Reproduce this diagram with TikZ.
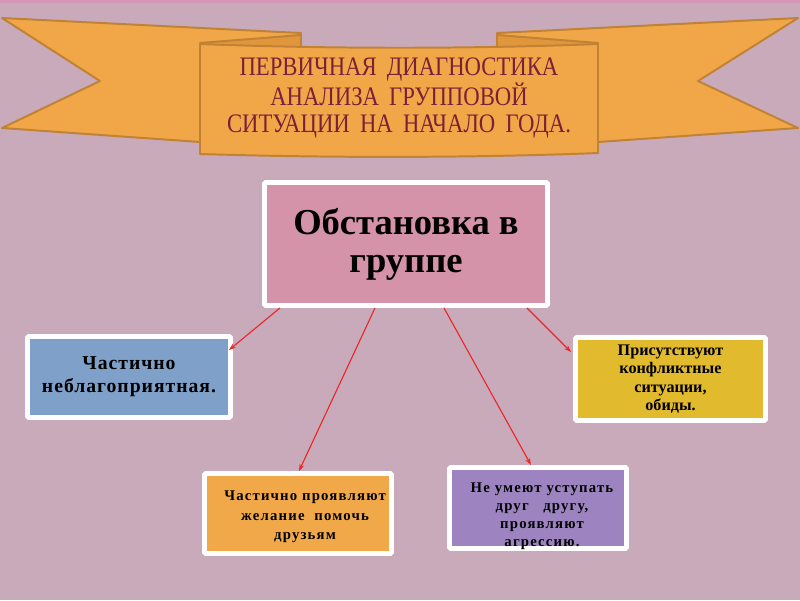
\documentclass[tikz,border=0pt]{standalone}
\usepackage{fontspec}
\setmainfont{Liberation Serif}
\newfontfamily\bannerfont[FakeStretch=0.85,WordSpace=1.8]{Liberation Serif}
\newfontfamily\cardfont[LetterSpace=5]{Liberation Serif}
\newfontfamily\smallcardfont[LetterSpace=8]{Liberation Serif}
\usetikzlibrary{
  arrows.meta,
  calc
}
\definecolor{slidecolor}{RGB}{201, 170, 186}
\definecolor{slideedge}{RGB}{214, 150, 184}
\definecolor{ribboncolor}{RGB}{241, 167, 72}
\definecolor{ribbonshade}{RGB}{226, 150, 60}
\definecolor{ribbonedge}{RGB}{192, 130, 52}
\definecolor{titlecolor}{RGB}{122, 32, 56}
\definecolor{maincolor}{RGB}{212, 147, 168}
\definecolor{bluecolor}{RGB}{127, 160, 200}
\definecolor{yellowcolor}{RGB}{226, 186, 46}
\definecolor{orangecolor}{RGB}{240, 168, 72}
\definecolor{purplecolor}{RGB}{157, 132, 192}
\definecolor{arrowcolor}{RGB}{232, 40, 40}
\tikzset{
ribbon/.style={
  fill=ribboncolor,
  draw=ribbonedge,
  line width=1.4pt,
  line join=round
},
ribbonfold/.style={
  ribbon,
  fill=ribbonshade
},
card/.style={
  draw=white,
  line width=3.5pt,
  rounded corners=1pt,
  align=center,
  inner sep=0pt,
  text=black
},
arrow/.style={
  -{Stealth[length=5pt,width=3.5pt]},
  line width=0.8pt,
  draw=arrowcolor
}
}

\begin{document}
\begin{tikzpicture}[x=0.025cm, y=-0.025cm]
  \def\px{0.025cm}

  % Slide background
  \fill[slidecolor] (0,0) rectangle (800,600);
  \fill[slideedge] (0,0) rectangle (800,3);
  \useasboundingbox (0,0) rectangle (800,600);

  % Ribbon tails
  \draw[ribbon] (2,18) -- (301,33) -- (301,46) -- (200,46) -- (200,142)
    -- (2,128) -- (100,81) -- cycle;
  \draw[ribbon] (798,18) -- (497,33) -- (497,46) -- (598,46) -- (598,142)
    -- (798,128) -- (698,81) -- cycle;
  \draw[ribbonfold] (200,43) -- (301,35) -- (301,47) -- (200,47) -- cycle;
  \draw[ribbonfold] (598,43) -- (497,35) -- (497,47) -- (598,47) -- cycle;

  % Ribbon front panel
  \draw[ribbon] (200,44) .. controls (330,49) and (470,49) .. (598,44)
    -- (598,153) .. controls (470,158) and (330,158) .. (200,154) -- cycle;
  \node[font=\bannerfont\fontsize{19}{19}\selectfont, text=titlecolor, align=center]
    (title) at (399,98) {ПЕРВИЧНАЯ ДИАГНОСТИКА\\АНАЛИЗА ГРУППОВОЙ\\СИТУАЦИИ НА НАЧАЛО ГОДА.};

  % Central box
  \node[card, fill=maincolor, minimum width=283*\px, minimum height=123*\px,
        font=\fontsize{26}{27}\selectfont\bfseries] (main) at (406,244)
    {Обстановка в\\группе};

  % Outer boxes
  \node[card, fill=bluecolor, minimum width=203*\px, minimum height=81*\px,
        font=\cardfont\fontsize{14}{16.5}\selectfont\bfseries] (left) at (129,377)
    {Частично\\неблагоприятная.};
  \node[card, fill=yellowcolor, minimum width=190*\px, minimum height=83*\px,
        font=\fontsize{11.5}{13}\selectfont\bfseries] (right) at (670.5,379)
    {Присутствуют\\конфликтные\\ситуации,\\обиды.};
  \node[card, fill=orangecolor, minimum width=187*\px, minimum height=80*\px,
        font=\smallcardfont\fontsize{10.5}{13.8}\selectfont\bfseries] (help) at (298,513.5)
    {\raisebox{-4.7pt}[0pt][0pt]{\begin{tabular}{@{\hspace{10pt}}c@{}}
      Частично проявляют\\желание~~помочь\\друзьям
    \end{tabular}}};
  \node[card, fill=purplecolor, minimum width=177*\px, minimum height=81*\px,
        font=\smallcardfont\fontsize{10.5}{13}\selectfont\bfseries] (aggr) at (538,508)
    {\raisebox{-8.3pt}[0pt][0pt]{\begin{tabular}{@{\hspace{5.7pt}}c@{}}
      Не умеют уступать\\друг~~~другу,\\проявляют\\агрессию.
    \end{tabular}}};

  % Arrows
  \draw[arrow] ($(main.south)+(-126,0)$) -- ($(left.north east)+(-4,16)$);
  \draw[arrow] ($(main.south)+(-31,0)$) -- ($(help.north)+(1,0)$);
  \draw[arrow] ($(main.south)+(38,0)$) -- ($(aggr.north)+(-7,0)$);
  \draw[arrow] ($(main.south)+(121,0)$) -- ($(right.north west)+(-2,17)$);
\end{tikzpicture}
\end{document}
